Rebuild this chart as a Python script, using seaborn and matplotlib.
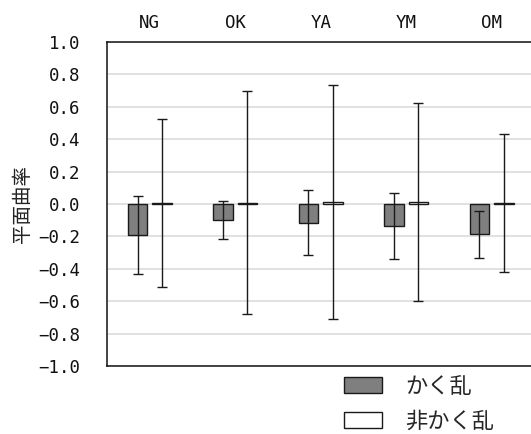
import pandas as pd
import matplotlib.pyplot as plt
import seaborn as sns

# Style
sns.set_theme(style="white")
plt.rcParams['font.family'] = ['Noto Sans CJK JP', 'DejaVu Sans']

# Data
sites = ["NG", "OK", "YA", "YM", "OM"]
groups = ["かく乱", "非かく乱"]
mean_kakuran = [-0.19, -0.10, -0.115, -0.135, -0.187]
sd_kakuran = [0.24, 0.117, 0.20, 0.205, 0.145]
mean_hikakuran = [0.005, 0.008, 0.013, 0.013, 0.008]
sd_hikakuran = [0.52, 0.69, 0.72, 0.61, 0.425]
yticks = [-1.0, -0.8, -0.6, -0.4, -0.2, 0.0, 0.2, 0.4, 0.6, 0.8, 1.0]

df = pd.DataFrame({
    "site": sites * 2,
    "group": [groups[0]] * len(sites) + [groups[1]] * len(sites),
    "value": mean_kakuran + mean_hikakuran,
})

fig = plt.figure(figsize=(5.31, 4.34), dpi=100)
ax = fig.add_axes([0.2015, 0.1567, 0.805, 0.7465])

sns.barplot(data=df, x="site", y="value", hue="group", order=sites, hue_order=groups,
            palette={groups[0]: "#7f7f7f", groups[1]: "white"},
            width=0.572, gap=0.2, edgecolor="#1a1a1a", linewidth=1.0,
            errorbar=None, ax=ax, zorder=2)

# Error bars (SD) on each bar
means = {groups[0]: mean_kakuran, groups[1]: mean_hikakuran}
sds = {groups[0]: sd_kakuran, groups[1]: sd_hikakuran}
for bars, g in zip(ax.containers, groups):
    xs = [b.get_x() + b.get_width() / 2 for b in bars]
    idx = [int(round(x)) for x in xs]
    ax.errorbar(xs, [means[g][i] for i in idx], yerr=[sds[g][i] for i in idx],
                fmt="none", ecolor="#1a1a1a", elinewidth=1.0,
                capsize=3.3, capthick=1.0, zorder=3)

# Axes
ax.set_xlim(-0.5, len(sites) - 0.5)
ax.set_ylim(-1, 1)
ax.set_yticks(yticks)
ax.set_yticklabels([f"{v:.1f}".replace("-", "\u2212") for v in yticks],
                   fontfamily="DejaVu Sans Mono", fontsize=12.5)
ax.xaxis.tick_top()
ax.set_xlabel("")
for lab in ax.get_xticklabels():
    lab.set_fontfamily("DejaVu Sans Mono")
    lab.set_fontsize(12.5)
ax.tick_params(axis="both", length=0, colors="#111111")
ax.tick_params(axis="y", pad=19)
ax.tick_params(axis="x", pad=7)

ax.set_axisbelow(True)
ax.yaxis.grid(True, color="#d9d9d9", linewidth=1.1)
for side in ["left", "top", "bottom"]:
    ax.spines[side].set_color("#111111")
    ax.spines[side].set_linewidth(1.1)
ax.spines["right"].set_visible(False)

ax.set_ylabel("平面曲率", fontsize=14, color="#222222")
ax.yaxis.set_label_coords(-0.172, 0.5)

# Legend under the plot
sns.move_legend(ax, "upper left", bbox_to_anchor=(0.648, 0.137),
                bbox_transform=fig.transFigure, frameon=False, title=None,
                fontsize=16, handlelength=1.71, handleheight=0.77,
                handletextpad=1.04, labelspacing=0.55, borderaxespad=0, borderpad=0)

plt.savefig("out.png", dpi=100)
